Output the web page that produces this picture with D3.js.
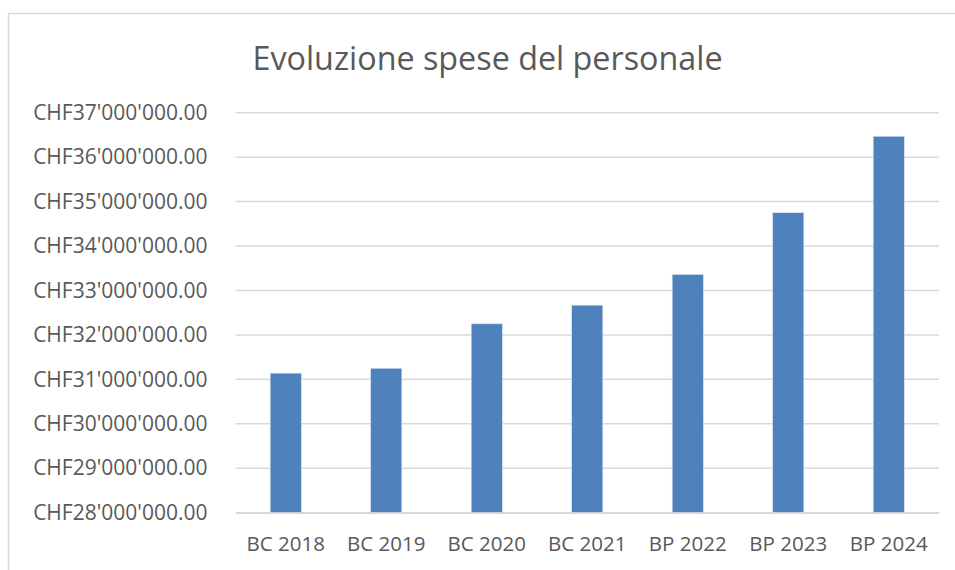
<!DOCTYPE html>
<html>
<head>
<meta charset="utf-8">
<script src="https://cdn.jsdelivr.net/npm/d3@7"></script>
<style>
  body { margin: 0; background: #fff; }
  text { font-family: "Open Sans", sans-serif; fill: #595959; }
</style>
</head>
<body>
<svg id="chart"></svg>
<script>
// Chart data
const categories = ["BC 2018", "BC 2019", "BC 2020", "BC 2021", "BP 2022", "BP 2023", "BP 2024"];
const values = [31140000, 31250000, 32250000, 32670000, 33360000, 34750000, 36470000];
const yTicks = [28000000, 29000000, 30000000, 31000000, 32000000, 33000000, 34000000, 35000000, 36000000, 37000000];
const title = "Evoluzione spese del personale";

function main() {
    const W = 955, H = 570;
    const margin = { top: 112.7, right: 16, bottom: 57.3, left: 235.5 };
    const width = W - margin.left - margin.right;
    const height = H - margin.top - margin.bottom;

    const svg = d3.select('#chart')
      .attr('width', W)
      .attr('height', H);

    // chart area border (Excel style)
    svg.append('rect')
      .attr('x', 8.5).attr('y', 13.5)
      .attr('width', 1000).attr('height', 600)
      .attr('fill', 'none')
      .attr('stroke', '#d9d9d9')
      .attr('stroke-width', 1.5);

    svg.append('text')
      .attr('x', 487.5).attr('y', 70)
      .attr('text-anchor', 'middle')
      .style('font-size', '32.3px')
      .text(title);

    const g = svg.append('g')
      .attr('transform', `translate(${margin.left}, ${margin.top})`);

    const xScale = d3.scaleBand()
      .domain(categories)
      .range([0, width])
      .paddingInner(0.69)
      .paddingOuter(0.345);

    const yScale = d3.scaleLinear()
      .domain([28000000, 37000000])
      .range([height, 0]);

    // thousands separator with apostrophe
    const fmt = d3.formatLocale({ decimal: ".", thousands: "'", grouping: [3], currency: ["CHF", ""] }).format("$,.2f");

    // gridlines
    g.append('g')
      .selectAll('line')
      .data(yTicks)
      .enter()
      .append('line')
      .attr('x1', 0).attr('x2', width)
      .attr('y1', d => yScale(d)).attr('y2', d => yScale(d))
      .attr('stroke', '#d9d9d9')
      .attr('stroke-width', 1.5);

    // y axis labels
    const yAxis = d3.axisLeft(yScale).tickValues(yTicks).tickFormat(fmt).tickSize(0).tickPadding(28);
    const ya = g.append('g').attr('class', 'y axis').call(yAxis);
    ya.select('.domain').remove();
    ya.selectAll('text').style('font-size', '21px').attr('fill', '#595959');

    // bars
    g.selectAll('rect.bar')
      .data(values)
      .enter()
      .append('rect')
      .attr('class', 'bar')
      .attr('x', (d, i) => xScale(categories[i]))
      .attr('width', xScale.bandwidth())
      .attr('y', d => yScale(d))
      .attr('height', d => height - yScale(d))
      .attr('fill', '#4f81bd')
      .attr('stroke', '#dbe5f1')
      .attr('stroke-width', 0.6);

    // x axis
    const xAxis = d3.axisBottom(xScale).tickSize(0).tickPadding(24);
    const xa = g.append('g')
      .attr('class', 'x axis')
      .attr('transform', `translate(0, ${height})`)
      .call(xAxis);
    xa.select('.domain').attr('stroke', '#d9d9d9').attr('stroke-width', 1.5);
    xa.selectAll('text').style('font-size', '20.5px').attr('fill', '#595959');
}
main();
</script>
</body>
</html>
